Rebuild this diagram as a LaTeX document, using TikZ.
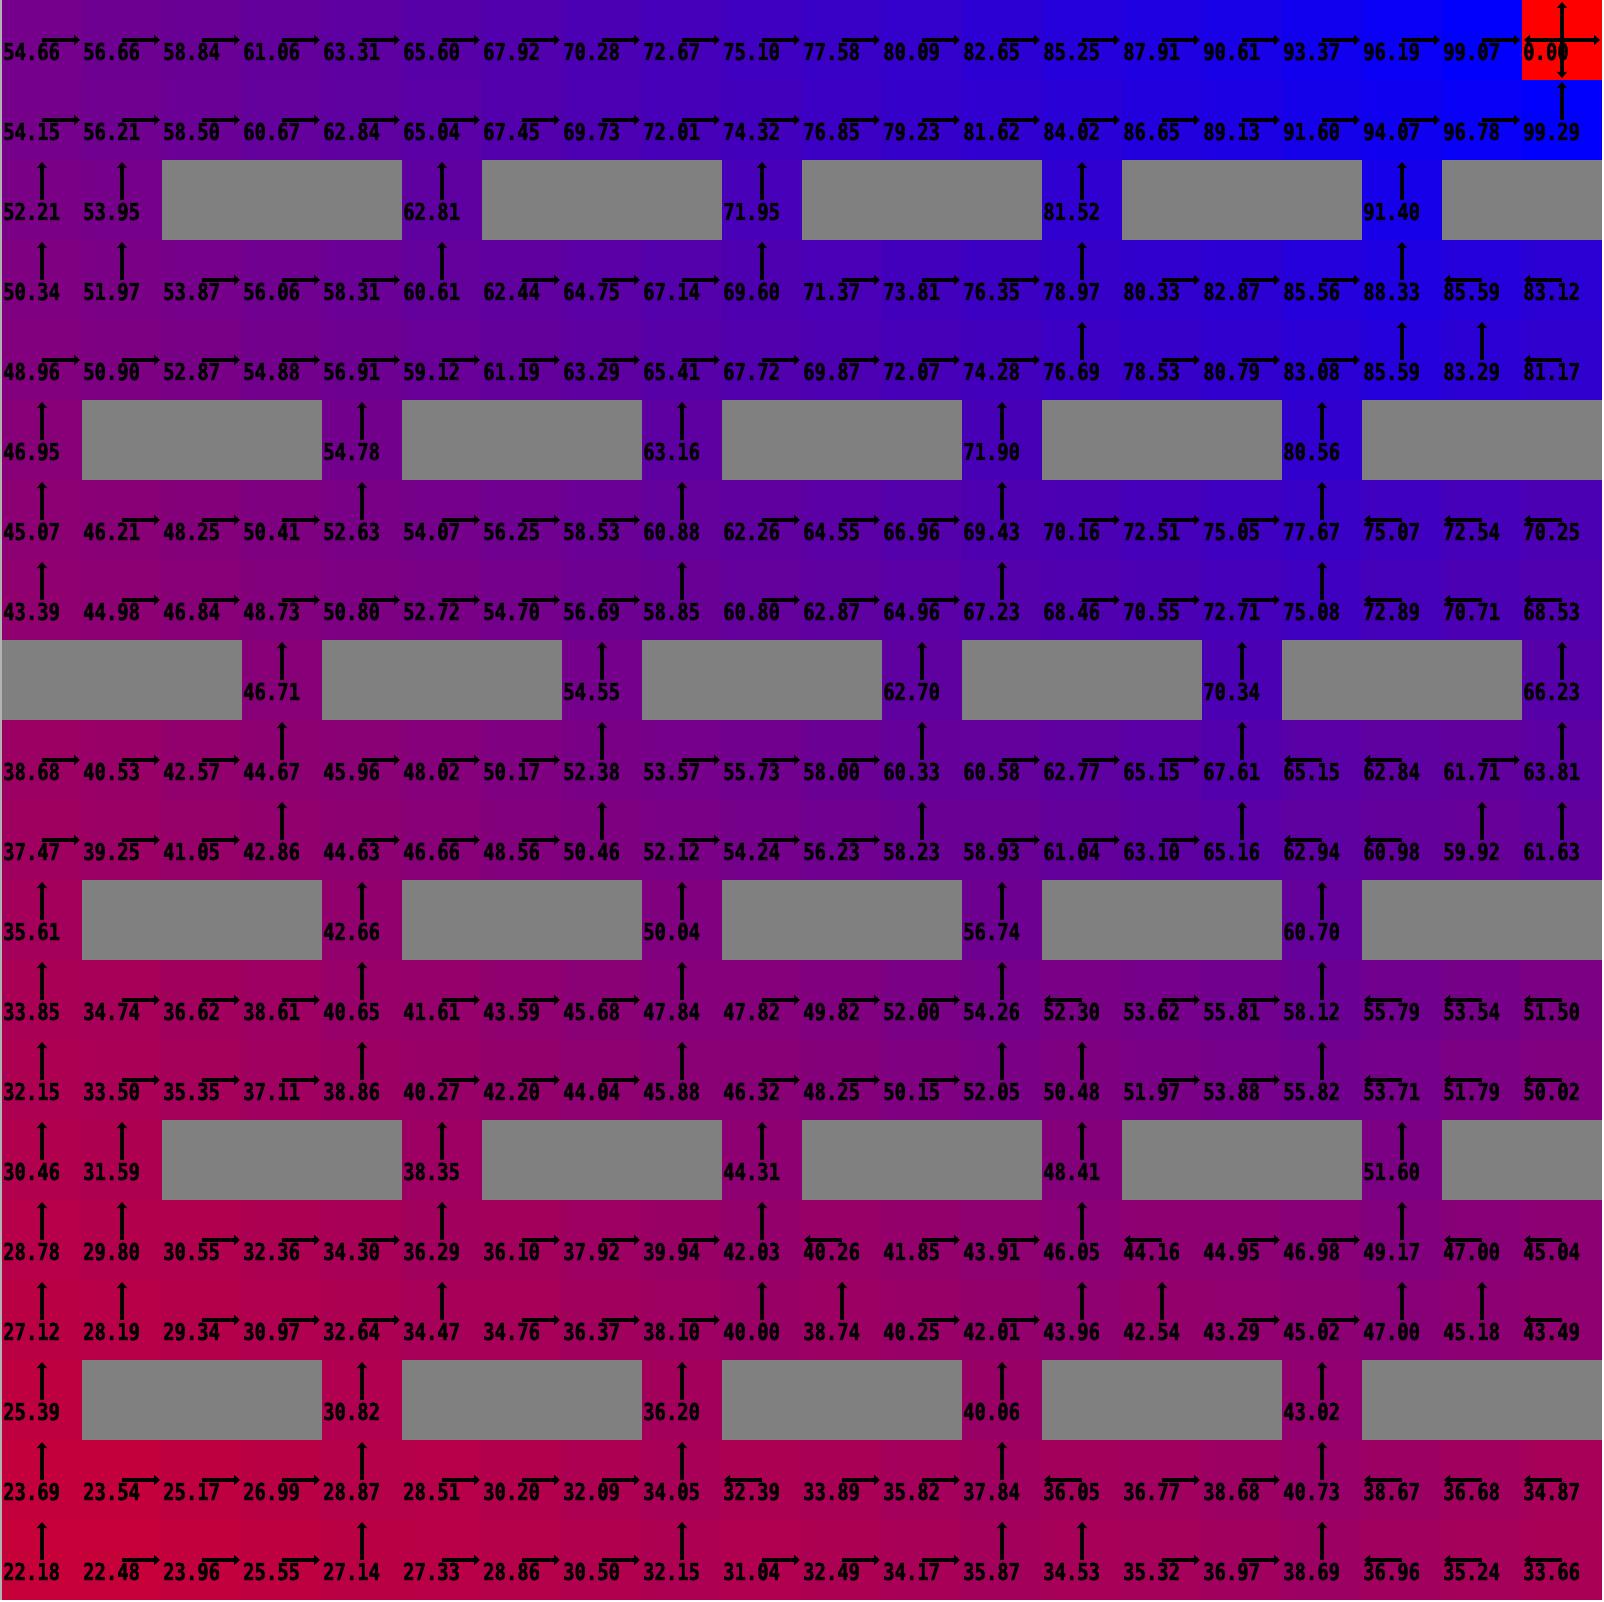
\documentclass[tikz,border=0pt]{standalone}
\usepackage{fontspec}
\newfontfamily\lblfont{DejaVu Sans Mono Bold}[FakeStretch=0.81,FakeBold=1.6]
\usetikzlibrary{arrows.meta}
\tikzset{
  lbl/.style={anchor=base west, inner sep=0pt, font=\lblfont\fontsize{23.3}{25}\selectfont, text=black},
  arr/.style={line width=4.4pt, -{Triangle[length=6pt,width=10pt]}},
  obst/.style={fill={rgb,255:red,128;green,128;blue,128}},
}
\newcommand\gcell[3]{%
  \fill[blue!#3!red] (#1,#2) rectangle ++(80,80);
  \node[lbl] (t#1-#2) at (#1+1,#2+60) {#3};
  \coordinate (c#1-#2) at (#1+40,#2+40);}
\newcommand\cellR[3]{\gcell{#1}{#2}{#3}\draw[arr] (c#1-#2) -- ++(38,0);}
\newcommand\cellL[3]{\gcell{#1}{#2}{#3}\draw[arr] (c#1-#2) -- ++(-38,0);}
\newcommand\cellU[3]{\gcell{#1}{#2}{#3}\draw[arr] (c#1-#2) -- ++(0,-38);}
\newcommand\cellG[3]{\gcell{#1}{#2}{#3}%
  \draw[arr] (c#1-#2) -- ++(38,0);
  \draw[arr] (c#1-#2) -- ++(-38,0);
  \draw[arr] (c#1-#2) -- ++(0,-38);
  \draw[arr] (c#1-#2) -- ++(0,38);}
\newcommand\cellX[3]{\fill[obst] (#1,#2) rectangle ++(80,80);}
\begin{document}
\begin{tikzpicture}[x=1pt,y=-1pt]
\useasboundingbox (0,0) rectangle (1604,1602);
\fill[white] (0,0) rectangle (1604,1602);
\fill[gray!60] (0,0) rectangle (2,1600);
\foreach \row [count=\r from 0] in {%
{54.66/R,56.66/R,58.84/R,61.06/R,63.31/R,65.60/R,67.92/R,70.28/R,72.67/R,75.10/R,77.58/R,80.09/R,82.65/R,85.25/R,87.91/R,90.61/R,93.37/R,96.19/R,99.07/R,0.00/G},%
{54.15/R,56.21/R,58.50/R,60.67/R,62.84/R,65.04/R,67.45/R,69.73/R,72.01/R,74.32/R,76.85/R,79.23/R,81.62/R,84.02/R,86.65/R,89.13/R,91.60/R,94.07/R,96.78/R,99.29/U},%
{52.21/U,53.95/U,0/X,0/X,0/X,62.81/U,0/X,0/X,0/X,71.95/U,0/X,0/X,0/X,81.52/U,0/X,0/X,0/X,91.40/U,0/X,0/X},%
{50.34/U,51.97/U,53.87/R,56.06/R,58.31/R,60.61/U,62.44/R,64.75/R,67.14/R,69.60/U,71.37/R,73.81/R,76.35/R,78.97/U,80.33/R,82.87/R,85.56/R,88.33/U,85.59/L,83.12/L},%
{48.96/R,50.90/R,52.87/R,54.88/R,56.91/R,59.12/R,61.19/R,63.29/R,65.41/R,67.72/R,69.87/R,72.07/R,74.28/R,76.69/U,78.53/R,80.79/R,83.08/R,85.59/U,83.29/U,81.17/L},%
{46.95/U,0/X,0/X,0/X,54.78/U,0/X,0/X,0/X,63.16/U,0/X,0/X,0/X,71.90/U,0/X,0/X,0/X,80.56/U,0/X,0/X,0/X},%
{45.07/U,46.21/R,48.25/R,50.41/R,52.63/U,54.07/R,56.25/R,58.53/R,60.88/U,62.26/R,64.55/R,66.96/R,69.43/U,70.16/R,72.51/R,75.05/R,77.67/U,75.07/L,72.54/L,70.25/L},%
{43.39/U,44.98/R,46.84/R,48.73/R,50.80/R,52.72/R,54.70/R,56.69/R,58.85/U,60.80/R,62.87/R,64.96/R,67.23/U,68.46/R,70.55/R,72.71/R,75.08/U,72.89/L,70.71/L,68.53/L},%
{0/X,0/X,0/X,46.71/U,0/X,0/X,0/X,54.55/U,0/X,0/X,0/X,62.70/U,0/X,0/X,0/X,70.34/U,0/X,0/X,0/X,66.23/U},%
{38.68/R,40.53/R,42.57/R,44.67/U,45.96/R,48.02/R,50.17/R,52.38/U,53.57/R,55.73/R,58.00/R,60.33/U,60.58/R,62.77/R,65.15/R,67.61/U,65.15/L,62.84/L,61.71/R,63.81/U},%
{37.47/R,39.25/R,41.05/R,42.86/U,44.63/R,46.66/R,48.56/R,50.46/U,52.12/R,54.24/R,56.23/R,58.23/U,58.93/R,61.04/R,63.10/R,65.16/U,62.94/L,60.98/L,59.92/U,61.63/U},%
{35.61/U,0/X,0/X,0/X,42.66/U,0/X,0/X,0/X,50.04/U,0/X,0/X,0/X,56.74/U,0/X,0/X,0/X,60.70/U,0/X,0/X,0/X},%
{33.85/U,34.74/R,36.62/R,38.61/R,40.65/U,41.61/R,43.59/R,45.68/R,47.84/U,47.82/R,49.82/R,52.00/R,54.26/U,52.30/L,53.62/R,55.81/R,58.12/U,55.79/L,53.54/L,51.50/L},%
{32.15/U,33.50/R,35.35/R,37.11/R,38.86/U,40.27/R,42.20/R,44.04/R,45.88/U,46.32/R,48.25/R,50.15/R,52.05/U,50.48/U,51.97/R,53.88/R,55.82/U,53.71/L,51.79/L,50.02/L},%
{30.46/U,31.59/U,0/X,0/X,0/X,38.35/U,0/X,0/X,0/X,44.31/U,0/X,0/X,0/X,48.41/U,0/X,0/X,0/X,51.60/U,0/X,0/X},%
{28.78/U,29.80/U,30.55/R,32.36/R,34.30/R,36.29/U,36.10/R,37.92/R,39.94/R,42.03/U,40.26/L,41.85/R,43.91/R,46.05/U,44.16/L,44.95/R,46.98/R,49.17/U,47.00/L,45.04/L},%
{27.12/U,28.19/U,29.34/R,30.97/R,32.64/R,34.47/U,34.76/R,36.37/R,38.10/R,40.00/U,38.74/U,40.25/R,42.01/R,43.96/U,42.54/U,43.29/R,45.02/R,47.00/U,45.18/U,43.49/L},%
{25.39/U,0/X,0/X,0/X,30.82/U,0/X,0/X,0/X,36.20/U,0/X,0/X,0/X,40.06/U,0/X,0/X,0/X,43.02/U,0/X,0/X,0/X},%
{23.69/U,23.54/R,25.17/R,26.99/R,28.87/U,28.51/R,30.20/R,32.09/R,34.05/U,32.39/L,33.89/R,35.82/R,37.84/U,36.05/L,36.77/R,38.68/R,40.73/U,38.67/L,36.68/L,34.87/L},%
{22.18/U,22.48/R,23.96/R,25.55/R,27.14/U,27.33/R,28.86/R,30.50/R,32.15/U,31.04/R,32.49/R,34.17/R,35.87/U,34.53/U,35.32/R,36.97/R,38.69/U,36.96/L,35.24/L,33.66/L}}{%
  \foreach \v/\d [count=\c from 0] in \row {
    \pgfmathtruncatemacro\xx{2+80*\c}
    \pgfmathtruncatemacro\yy{80*\r}
    \csname cell\d\endcsname{\xx}{\yy}{\v}
  }
}
\end{tikzpicture}
\end{document}
